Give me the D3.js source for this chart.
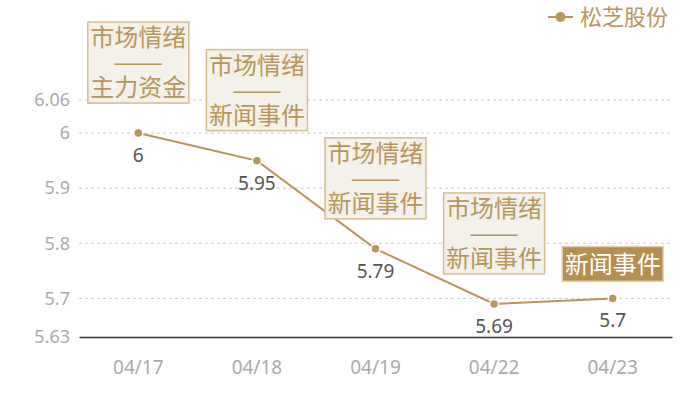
<!DOCTYPE html>
<html>
<head>
<meta charset="utf-8">
<script src="https://cdn.jsdelivr.net/npm/d3@7"></script>
<style>
  body { margin: 0; background: #fff; }
  #chart { width: 700px; height: 400px; }
</style>
</head>
<body>
<div id="chart"></div>
<script>
var seriesName = '松芝股份'
var dates = ['04/17', '04/18', '04/19', '04/22', '04/23']
var prices = [6, 5.95, 5.79, 5.69, 5.7]
var yTicks = [5.63, 5.7, 5.8, 5.9, 6, 6.06]
var notes = [
    ['市场情绪', '——', '主力资金'],
    ['市场情绪', '——', '新闻事件'],
    ['市场情绪', '——', '新闻事件'],
    ['市场情绪', '——', '新闻事件'],
    ['新闻事件']
]

var margin = { top: 100, right: 28, bottom: 63, left: 79 }
var W = 700, H = 400
var gold = '#b8965a'
var numFont = '"Noto Sans", sans-serif'
var cjkFont = '"Noto Sans CJK SC", sans-serif'

var svg = d3.select('#chart').append('svg')
    .attr('width', W)
    .attr('height', H)

var width = W - margin.left - margin.right
var height = H - margin.top - margin.bottom
var g = svg.append('g')
    .attr('transform', 'translate(' + margin.left + ',' + margin.top + ')')

var x = d3.scaleBand().domain(dates).range([0, width])
var y = d3.scaleLinear().domain([5.63, 6.06]).range([height, 0])
var cx = function(d) { return x(d) + x.bandwidth() / 2 }

// dashed grid
g.append('g')
    .selectAll('line')
    .data(yTicks.slice(1))
    .join('line')
    .attr('x1', 0)
    .attr('x2', width)
    .attr('y1', function(d) { return y(d) })
    .attr('y2', function(d) { return y(d) })
    .attr('stroke', '#cccccc')
    .attr('stroke-dasharray', '3,3')

// y axis labels
var yAxis = g.append('g')
    .call(d3.axisLeft(y).tickValues(yTicks).tickFormat(d3.format('')).tickSize(0).tickPadding(9))
yAxis.select('.domain').remove()
yAxis.selectAll('text')
    .attr('fill', '#aaaaaa')
    .style('font-family', numFont)
    .style('font-size', '18px')

// x axis
var xAxis = g.append('g')
    .attr('transform', 'translate(0,' + height + ')')
    .call(d3.axisBottom(x).tickSize(0).tickPadding(24))
xAxis.select('.domain').attr('stroke', '#333333').attr('stroke-width', 1.5)
xAxis.selectAll('text')
    .attr('fill', '#aaaaaa')
    .style('font-family', numFont)
    .style('font-size', '19px')

// line
var line = d3.line()
    .x(function(d, i) { return cx(dates[i]) })
    .y(function(d) { return y(d) })

g.append('path')
    .datum(prices)
    .attr('fill', 'none')
    .attr('stroke', gold)
    .attr('stroke-width', 2)
    .attr('d', line)

g.selectAll('.dot')
    .data(prices)
    .join('circle')
    .attr('class', 'dot')
    .attr('cx', function(d, i) { return cx(dates[i]) })
    .attr('cy', function(d) { return y(d) })
    .attr('r', 4.5)
    .attr('fill', gold)
    .attr('stroke', '#fff')
    .attr('stroke-width', 1.5)

g.selectAll('.val')
    .data(prices)
    .join('text')
    .attr('class', 'val')
    .attr('x', function(d, i) { return cx(dates[i]) })
    .attr('y', function(d) { return y(d) + 29 })
    .attr('text-anchor', 'middle')
    .attr('fill', '#555555')
    .style('font-family', numFont)
    .style('font-size', '19px')
    .text(function(d) { return d })

// annotation boxes
var lineH = 25, boxW = 101
notes.forEach(function(lines, i) {
    var px = cx(dates[i]), py = y(prices[i])
    var single = lines.length === 1
    var bh = single ? 35 : lines.length * lineH + 6
    var bottom = single ? py - 17 : py - 30
    var top = bottom - bh
    var box = g.append('g')
    box.append('rect')
        .attr('x', px - boxW / 2)
        .attr('y', top)
        .attr('width', boxW)
        .attr('height', bh)
        .attr('fill', single ? '#b58f51' : '#f4f0ea')
        .attr('stroke', single ? '#e6d3b0' : '#d6bc8e')
        .attr('stroke-width', 1.5)
    box.selectAll('text')
        .data(lines)
        .join('text')
        .attr('x', px)
        .attr('y', function(d, j) { return single ? top + bh / 2 : top + 3 + lineH * j + lineH / 2 })
        .attr('dy', '0.36em')
        .attr('text-anchor', 'middle')
        .attr('fill', single ? '#ffffff' : '#b8965a')
        .style('font-family', cjkFont)
        .style('font-size', '24px')
        .each(function(d) {
            // stretch the dash line to full width like the reference
            if (d === '——') d3.select(this).attr('textLength', 50).attr('lengthAdjust', 'spacingAndGlyphs')
        })
        .text(function(d) { return d })
})

// legend
var lg = svg.append('g').attr('transform', 'translate(548,17)')
lg.append('line').attr('x1', 0).attr('x2', 25).attr('stroke', gold).attr('stroke-width', 2)
lg.append('circle').attr('cx', 12.5).attr('r', 5).attr('fill', gold)
lg.append('text')
    .attr('x', 32)
    .attr('dy', '0.36em')
    .attr('fill', gold)
    .style('font-family', cjkFont)
    .style('font-size', '22px')
    .text(seriesName)
</script>
</body>
</html>
